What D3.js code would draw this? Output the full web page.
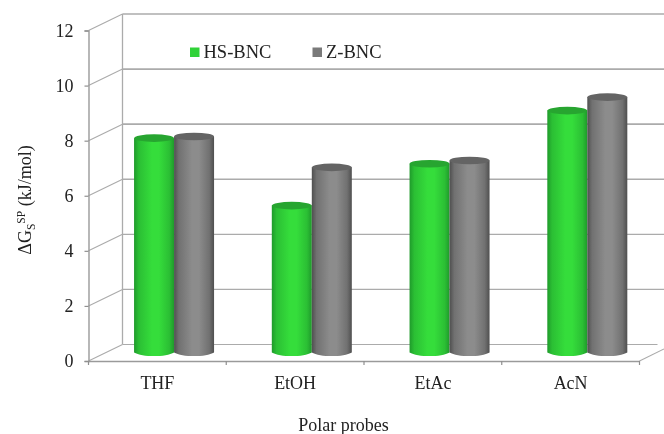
<!DOCTYPE html>
<html><head><meta charset="utf-8">
<script src="https://cdn.jsdelivr.net/npm/d3@7"></script>
<style>html,body{margin:0;padding:0;background:#fff}svg{display:block;filter:blur(0.4px)}text{font-family:"Liberation Serif",serif;fill:#222}</style>
</head><body><div id="c"></div>
<script>
const categories = ["THF","EtOH","EtAc","AcN"];
const seriesNames = ["HS-BNC","Z-BNC"];
const hsBnc = [7.78,5.33,6.85,8.78];
const zBnc  = [7.84,6.72,6.97,9.27];
const yTicks = [0,2,4,6,8,10,12];
const xLabel = "Polar probes";

const W=664,H=434;
const svg=d3.select("#c").append("svg").attr("width",W).attr("height",H);
const x=d3.scaleBand().domain(categories).range([88.5,639.5]);
const y=d3.scaleLinear().domain([0,12]).range([361,30.5]);
const depthX=34, depthY=-16.5;
const barDepth=0.52, barW=40, ry=3.8;
const inner=d3.scaleBand().domain(seriesNames).range([-barW,barW]);

const defs=svg.append("defs");
function grad(id,edge,mid){
  const g=defs.append("linearGradient").attr("id",id);
  [[0,edge],[0.12,d3.interpolateRgb(edge,mid)(0.55)],[0.45,mid],[0.62,mid],[0.88,d3.interpolateRgb(edge,mid)(0.55)],[1,edge]]
    .forEach(s=>g.append("stop").attr("offset",s[0]).attr("stop-color",s[1]));
}
grad("g0","#1f9a2b","#35dd3b");
grad("g1","#4f4f4f","#8c8c8c");
const tops=["#27a530","#646464"];

// walls
const grid=svg.append("g").attr("fill","none").attr("stroke","#ababab");
yTicks.forEach(t=>{
  const sw=t>=6?1.7:(t>=2?1.3:1);
  grid.append("line").attr("x1",x.range()[0]+depthX).attr("x2",t===0?x.range()[1]+18:W)
    .attr("y1",y(t)+depthY).attr("y2",y(t)+depthY).attr("stroke-width",sw);
  grid.append("line").attr("x1",x.range()[0]).attr("x2",x.range()[0]+depthX)
    .attr("y1",y(t)).attr("y2",y(t)+depthY).attr("stroke-width",1.1);
});
grid.append("line").attr("x1",x.range()[0]+depthX).attr("x2",x.range()[0]+depthX)
  .attr("y1",y(0)+depthY).attr("y2",y(12)+depthY).attr("stroke-width",1.3);
grid.append("line").attr("x1",x.range()[1]).attr("x2",W)
  .attr("y1",y(0)).attr("y2",y(0)-12).attr("stroke-width",1.1);

// axes
const yAxis=d3.axisLeft(y).tickValues(yTicks).tickSize(4).tickPadding(11);
const ga=svg.append("g").attr("transform",`translate(${x.range()[0]},0)`).call(yAxis);
const xAxis=d3.axisBottom(x).tickSize(0).tickPadding(15);
const gb=svg.append("g").attr("transform",`translate(0,${y(0)})`).call(xAxis);
gb.selectAll(".xedge").data(d3.range(categories.length+1)).enter().append("line").attr("class","xedge")
  .attr("x1",i=>x.range()[0]+i*x.step()).attr("x2",i=>x.range()[0]+i*x.step()).attr("y1",0).attr("y2",4).attr("stroke","#8f8f8f").attr("stroke-width",1.2);
[ga,gb].forEach(g=>{
  g.selectAll(".domain").attr("stroke","#9a9a9a").attr("stroke-width",1.4);
  g.selectAll(".tick line").attr("stroke","#8f8f8f").attr("stroke-width",1.2);
  g.selectAll("text").attr("font-size",18).attr("font-family",'"Liberation Serif",serif').attr("fill","#222");
});
ga.selectAll("text").attr("dy","0.32em");
gb.selectAll("text").attr("dy","0.71em");

// cylinders
const base=y(0)+barDepth*depthY;
const off=barDepth*depthX;
const h=v=>y(0)-y(v);
[hsBnc,zBnc].forEach((vals,s)=>{
  const g=svg.append("g");
  categories.forEach((c,i)=>{
    const x0=x(c)+x.bandwidth()/2+off-1+inner(seriesNames[s]);
    const x1=x0+inner.bandwidth();
    const topY=base-h(vals[i]);
    const path=d3.path();
    path.moveTo(x0,topY);
    path.lineTo(x0,base);
    path.bezierCurveTo(x0+8,base+ry*1.3,x1-8,base+ry*1.3,x1,base);
    path.lineTo(x1,topY);
    path.closePath();
    g.append("path").attr("d",path.toString()).attr("fill",`url(#g${s})`);
    g.append("ellipse").attr("cx",(x0+x1)/2).attr("cy",topY).attr("rx",barW/2).attr("ry",ry).attr("fill",tops[s]);
  });
});

// legend
const lg=svg.append("g");
const legendX=d3.scaleOrdinal().domain(seriesNames).range([190,312.5]);
seriesNames.forEach((n,s)=>{
  lg.append("rect").attr("x",legendX(n)).attr("y",47.5).attr("width",9.5).attr("height",9.5).attr("fill",s?"#7a7a7a":"#30d238");
  lg.append("text").attr("x",legendX(n)+13.5).attr("y",58).attr("font-size",18.5).text(n);
});

// axis titles
svg.append("text").attr("x",343.5).attr("y",431).attr("text-anchor","middle").attr("font-size",18).text(xLabel);
const yt=svg.append("text").attr("transform","translate(31,200) rotate(-90)").attr("text-anchor","middle").attr("font-size",18);
yt.append("tspan").text("ΔG");
yt.append("tspan").attr("font-size",11.5).attr("dy",4).text("S");
yt.append("tspan").attr("font-size",11.5).attr("dy",-10).text("SP");
yt.append("tspan").attr("dy",6).text(" (kJ/mol)");
</script></body></html>
